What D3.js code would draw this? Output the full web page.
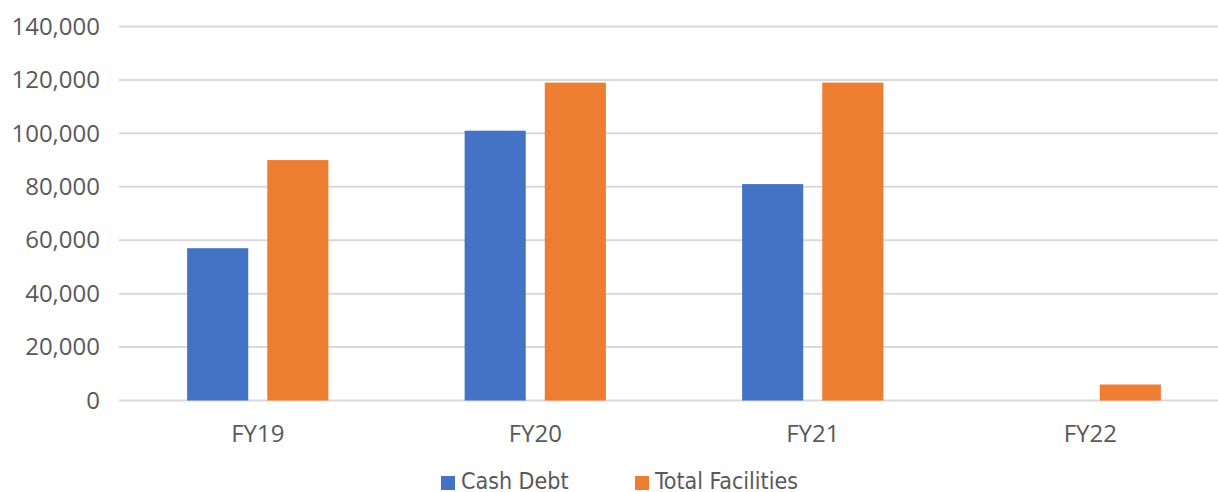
<!DOCTYPE html>
<html>
<head>
<meta charset="utf-8">
<script src="https://cdn.jsdelivr.net/npm/d3@7"></script>
<style>
  body { margin: 0; background: #fff; }
  svg { display: block; }
  .tick text { fill: #595959; }
</style>
</head>
<body>
<div id="chart"></div>
<script>
'use strict';

const categories = ['FY19', 'FY20', 'FY21', 'FY22'];
const seriesNames = ['Cash Debt', 'Total Facilities'];
const cashDebt = [57000, 101000, 81000, 0];
const totalFacilities = [90000, 119000, 119000, 6000];
const yTicks = [0, 20000, 40000, 60000, 80000, 100000, 120000, 140000];
const colors = ['#4472c4', '#ed7d31'];

const W = 1218, H = 492;
const m = { top: 26.5, bottom: 91.5, left: 119 };
// plot area runs a little past the right edge of the picture
const plotRight = 1229;

const $svg = d3.select('#chart').append('svg')
  .attr('width', W)
  .attr('height', H);

const x = d3.scaleBand()
  .domain(categories)
  .range([m.left, plotRight])
  .paddingInner(0)
  .paddingOuter(0);

const x1 = d3.scaleBand()
  .domain(seriesNames)
  .range([0, x.bandwidth()])
  .paddingInner(0.2375)
  .paddingOuter(0.85);

const y = d3.scaleLinear()
  .domain([0, 140000])
  .range([H - m.bottom, m.top]);

// gridlines
$svg.append('g').selectAll('line')
  .data(yTicks)
  .enter()
  .append('line')
  .attr('x1', m.left)
  .attr('x2', W)
  .attr('y1', (d) => y(d))
  .attr('y2', (d) => y(d))
  .attr('stroke', '#d9d9d9')
  .attr('stroke-width', 2);

// y axis labels
const yAxis = d3.axisLeft(y)
  .tickValues(yTicks)
  .tickSize(0)
  .tickPadding(19)
  .tickFormat(d3.format(','));
$svg.append('g')
  .attr('transform', `translate(${m.left},0)`)
  .call(yAxis)
  .call((g) => g.select('.domain').remove())
  .selectAll('text')
  .attr('font-family', '"Open Sans", sans-serif')
  .attr('font-size', 24);

// bars
const rows = categories.map((c, i) => ({ cat: c, vals: [cashDebt[i], totalFacilities[i]] }));
const $groups = $svg.append('g').selectAll('g')
  .data(rows)
  .enter()
  .append('g')
  .attr('transform', (d) => `translate(${x(d.cat)},0)`);

$groups.selectAll('rect')
  .data((d) => d.vals.map((v, j) => ({ name: seriesNames[j], v: v, j: j })))
  .enter()
  .filter((d) => d.v > 0)
  .append('rect')
  .attr('x', (d) => x1(d.name))
  .attr('width', x1.bandwidth())
  .attr('y', (d) => y(d.v))
  .attr('height', (d) => y(0) - y(d.v))
  .attr('fill', (d) => colors[d.j]);

// x axis labels
const xAxis = d3.axisBottom(x).tickSize(0).tickPadding(24);
$svg.append('g')
  .attr('transform', `translate(0,${y(0)})`)
  .call(xAxis)
  .call((g) => g.select('.domain').remove())
  .selectAll('text')
  .attr('font-family', '"Open Sans", sans-serif')
  .attr('font-size', 24);

// legend
const legendX = [441, 635];
const $legend = $svg.append('g').selectAll('g')
  .data(seriesNames)
  .enter()
  .append('g')
  .attr('transform', (d, i) => `translate(${legendX[i]},476)`);
$legend.append('rect')
  .attr('width', 14)
  .attr('height', 14)
  .attr('fill', (d, i) => colors[i]);
$legend.append('text')
  .attr('x', 20)
  .attr('y', 13)
  .attr('fill', '#595959')
  .attr('font-family', '"Liberation Sans Narrow", "DejaVu Sans Condensed", "Roboto", sans-serif')
  .attr('font-size', 23)
  .text((d) => d);
</script>
</body>
</html>
